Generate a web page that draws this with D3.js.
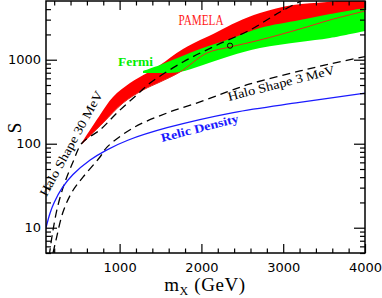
<!DOCTYPE html>
<html>
<head>
<meta charset="utf-8">
<script src="https://cdn.jsdelivr.net/npm/d3@7"></script>
<style>
  body { margin: 0; background: #fff; }
  svg { display: block; }
</style>
</head>
<body>
<div id="chart"></div>
<script>
// values: mass in GeV, S (boost)
var relicMass = [100, 150, 200, 300, 430, 640, 840, 1100, 1580, 2390, 3200, 4000];
var relicS = [10, 15, 20, 30, 43, 64, 84, 110, 155, 235, 310, 400];

var halo3Mass = [186, 222, 308, 418, 552, 760, 846, 1164, 1579, 1983, 2313, 2594, 3205, 3572, 4000];
var halo3S = [5, 7.1, 15.4, 26.6, 40, 69.5, 91, 154, 232, 314, 413, 514, 735, 889, 1090];

var halo30Mass = [140, 149, 186, 247, 332, 430, 540, 760, 980, 1249, 1372, 1775, 2191, 2594, 2961, 3242];
var halo30S = [4.6, 5.4, 9.4, 18.6, 35, 60.5, 102, 146, 239, 413, 528, 940, 1496, 2259, 3700, 5140];

var pamelaUpMass = [540, 760, 919, 1127, 1335, 1494, 1775, 2191, 2435, 2716, 3120, 3535, 4000];
var pamelaUpS = [104, 220, 360, 528, 695, 865, 1342, 2138, 2812, 3597, 4480, 4866, 5430];
var pamelaLoMass = [540, 797, 1041, 1286, 1494, 1738, 2068, 2350, 2716, 3205, 3572, 4000];
var pamelaLoS = [100, 177, 305, 436, 543, 714, 1202, 1416, 1718, 2321, 2972, 3800];

var fermiUpMass = [1286, 1494, 1738, 1983, 2350, 2716, 3205, 3572, 4000];
var fermiUpS = [735, 865, 1077, 1342, 1766, 2386, 2972, 3500, 4130];
var fermiLoMass = [1286, 1555, 1738, 2020, 2350, 2716, 3205, 3572, 4000];
var fermiLoS = [695, 695, 714, 865, 1107, 1377, 1626, 1815, 2198];

var pointMass = [2350];
var pointS = [1469];

var xMajor = [1000, 2000, 3000, 4000];
var xMinor = [200, 400, 600, 800, 1200, 1400, 1600, 1800, 2200, 2400, 2600, 2800, 3200, 3400, 3600, 3800];
var yMajor = [10, 100, 1000];
var yMinor = [5, 6, 7, 8, 9, 20, 30, 40, 50, 60, 70, 80, 90, 200, 300, 400, 500, 600, 700, 800, 900, 2000, 3000, 4000];

var labelText = ["PAMELA", "Fermi", "Halo Shape 30 MeV", "Halo Shape 3 MeV", "Relic Density"];
var labelMass = [1995, 980, 106, 2337, 1518];
var labelS = [2590, 841, 23, 323, 105];

var width = 382, height = 298;
var margin = {top: 1, right: 17, bottom: 45, left: 46};

var svg = d3.select("#chart").append("svg")
    .attr("width", width)
    .attr("height", height);

var x = d3.scaleLinear().domain([100, 4000]).range([margin.left, width - margin.right]);
var y = d3.scaleLog().domain([5, 5000]).range([height - margin.bottom, margin.top]);

var zip = function (xs, ys) {
    return xs.map(function (v, i) { return [v, ys[i]]; });
};

var line = d3.line()
    .x(function (d) { return x(d[0]); })
    .y(function (d) { return y(d[1]); })
    .curve(d3.curveCatmullRom);

var band = function (upM, upS, loM, loS) {
    var top = line(zip(upM, upS));
    var bottom = line(zip(loM, loS).reverse());
    return top + "L" + bottom.substring(1) + "Z";
};

svg.append("clipPath").attr("id", "plot")
  .append("rect")
    .attr("x", margin.left)
    .attr("y", margin.top)
    .attr("width", width - margin.left - margin.right)
    .attr("height", height - margin.top - margin.bottom);

var plot = svg.append("g").attr("clip-path", "url(#plot)");

plot.append("path")
    .attr("d", band(pamelaUpMass, pamelaUpS, pamelaLoMass, pamelaLoS))
    .attr("fill", "#ff0000");

plot.append("path")
    .attr("d", band(fermiUpMass, fermiUpS, fermiLoMass, fermiLoS))
    .attr("fill", "#00ff00");

plot.append("path")
    .attr("d", line(zip(pamelaLoMass, pamelaLoS)))
    .attr("fill", "none")
    .attr("stroke", "#e8261c")
    .attr("stroke-width", 1);

plot.append("path")
    .attr("d", line(zip(halo30Mass, halo30S)))
    .attr("fill", "none")
    .attr("stroke", "#000")
    .attr("stroke-width", 1.3)
    .attr("stroke-dasharray", "8,5");

plot.append("path")
    .attr("d", line(zip(halo3Mass, halo3S)))
    .attr("fill", "none")
    .attr("stroke", "#000")
    .attr("stroke-width", 1.3)
    .attr("stroke-dasharray", "8,5");

plot.append("path")
    .attr("d", line(zip(relicMass, relicS)))
    .attr("fill", "none")
    .attr("stroke", "#1a1aff")
    .attr("stroke-width", 1.3);

plot.selectAll("circle.pt")
    .data(zip(pointMass, pointS))
  .enter().append("circle")
    .attr("class", "pt")
    .attr("cx", function (d) { return x(d[0]); })
    .attr("cy", function (d) { return y(d[1]); })
    .attr("r", 2.6)
    .attr("fill", "none")
    .attr("stroke", "#000")
    .attr("stroke-width", 1);

// curve labels
var labelStyle = [
    {color: "#ff1a1a", angle: 0, anchor: "middle", size: 14, weight: "normal", len: 45},
    {color: "#00ee00", angle: 0, anchor: "start", size: 12, weight: "bold", len: 35},
    {color: "#000", angle: -61.3, anchor: "start", size: 12.5, weight: "normal", len: 118},
    {color: "#000", angle: -14.4, anchor: "start", size: 12.5, weight: "normal", len: 110},
    {color: "#1a1aff", angle: -14.4, anchor: "start", size: 12, weight: "bold", len: 80}
];

labelText.forEach(function (t, i) {
    var s = labelStyle[i];
    svg.append("text")
        .attr("transform", "translate(" + x(labelMass[i]) + "," + y(labelS[i]) + ") rotate(" + s.angle + ")")
        .attr("text-anchor", s.anchor)
        .attr("font-family", "'Liberation Serif', serif")
        .attr("font-size", s.size)
        .attr("font-weight", s.weight)
        .attr("fill", s.color)
        .attr("textLength", s.len)
        .attr("lengthAdjust", "spacingAndGlyphs")
        .text(t);
});

// axes, ticks inward on all four sides
var axisFont = function (g) {
    g.select(".domain").remove();
    g.selectAll("text")
        .attr("font-family", "'DejaVu Sans', sans-serif")
        .attr("font-size", 13)
        .attr("fill", "#000");
    g.selectAll("line").attr("stroke", "#000").attr("stroke-width", 1.2);
};

var bottomY = height - margin.bottom;
var rightX = width - margin.right;

svg.append("g").attr("transform", "translate(0," + bottomY + ")")
    .call(d3.axisBottom(x).tickValues(xMajor).tickSize(-9).tickPadding(10).tickFormat(d3.format("d")))
    .call(axisFont);
svg.append("g").attr("transform", "translate(0," + bottomY + ")")
    .call(d3.axisBottom(x).tickValues(xMinor).tickSize(-4.5).tickFormat(""))
    .call(axisFont);
svg.append("g").attr("transform", "translate(0," + margin.top + ")")
    .call(d3.axisTop(x).tickValues(xMajor).tickSize(-9).tickFormat(""))
    .call(axisFont);
svg.append("g").attr("transform", "translate(0," + margin.top + ")")
    .call(d3.axisTop(x).tickValues(xMinor).tickSize(-4.5).tickFormat(""))
    .call(axisFont);

svg.append("g").attr("transform", "translate(" + margin.left + ",0)")
    .call(d3.axisLeft(y).tickValues(yMajor).tickSize(-11).tickPadding(5).tickFormat(d3.format("d")))
    .call(axisFont);
svg.append("g").attr("transform", "translate(" + margin.left + ",0)")
    .call(d3.axisLeft(y).tickValues(yMinor).tickSize(-5).tickFormat(""))
    .call(axisFont);
svg.append("g").attr("transform", "translate(" + rightX + ",0)")
    .call(d3.axisRight(y).tickValues(yMajor).tickSize(-11).tickFormat(""))
    .call(axisFont);
svg.append("g").attr("transform", "translate(" + rightX + ",0)")
    .call(d3.axisRight(y).tickValues(yMinor).tickSize(-5).tickFormat(""))
    .call(axisFont);

svg.append("rect")
    .attr("x", margin.left)
    .attr("y", margin.top)
    .attr("width", rightX - margin.left)
    .attr("height", bottomY - margin.top)
    .attr("fill", "none")
    .attr("stroke", "#000")
    .attr("stroke-width", 1.5);

// axis titles
var xTitle = svg.append("text")
    .attr("x", 205)
    .attr("y", 291)
    .attr("text-anchor", "middle")
    .attr("font-family", "'Liberation Serif', serif")
    .attr("font-size", 19)
    .attr("letter-spacing", 0.6)
    .attr("fill", "#000");
xTitle.append("tspan").text("m");
xTitle.append("tspan").attr("font-size", 12).attr("dy", 4).text("X");
xTitle.append("tspan").attr("dy", -4).text(" (GeV)");

svg.append("text")
    .attr("transform", "translate(21,128) rotate(-90)")
    .attr("text-anchor", "middle")
    .attr("font-family", "'Liberation Serif', serif")
    .attr("font-size", 19)
    .attr("fill", "#000")
    .text("S");
</script>
</body>
</html>
